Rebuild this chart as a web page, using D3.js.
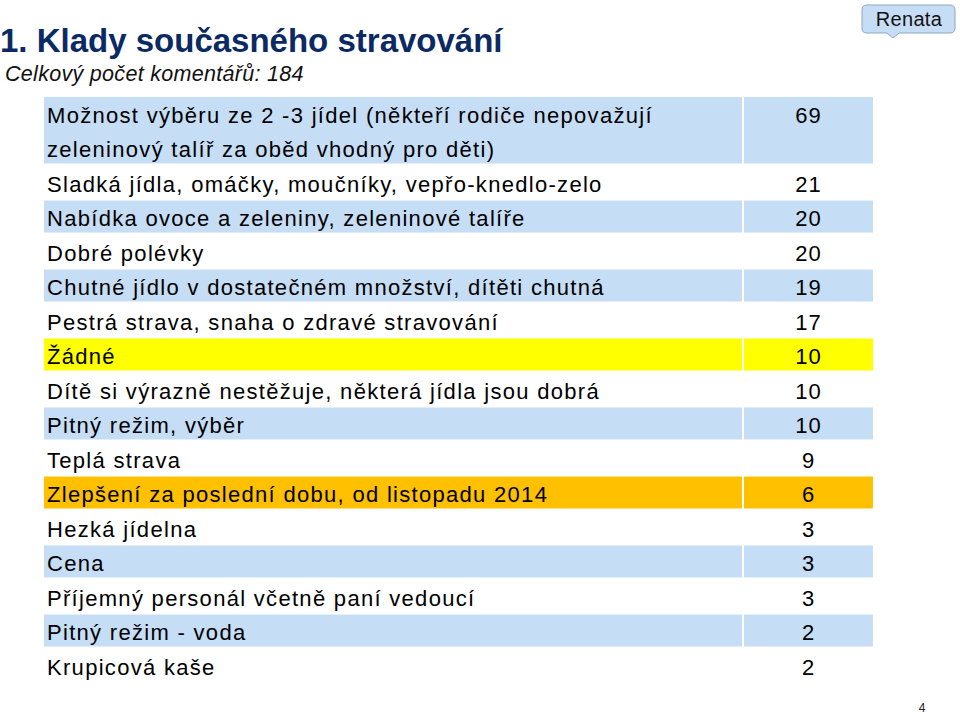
<!DOCTYPE html>
<html><head><meta charset="utf-8">
<script src="https://cdn.jsdelivr.net/npm/d3@7"></script>
<style>body{margin:0;background:#fff}svg{display:block}text{font-family:"Liberation Sans",Arial,Helvetica,sans-serif}</style>
</head><body>
<svg id="c" width="960" height="714"></svg>
<script>
const labels = [
  ["Možnost výběru ze 2 -3 jídel (někteří rodiče nepovažují","zeleninový talíř za oběd vhodný pro děti)"],
  ["Sladká jídla, omáčky, moučníky, vepřo-knedlo-zelo"],
  ["Nabídka ovoce a zeleniny, zeleninové talíře"],
  ["Dobré polévky"],
  ["Chutné jídlo v dostatečném množství, dítěti chutná"],
  ["Pestrá strava, snaha o zdravé stravování"],
  ["Žádné"],
  ["Dítě si výrazně nestěžuje, některá jídla jsou dobrá"],
  ["Pitný režim, výběr"],
  ["Teplá strava"],
  ["Zlepšení za poslední dobu, od listopadu 2014"],
  ["Hezká jídelna"],
  ["Cena"],
  ["Příjemný personál včetně paní vedoucí"],
  ["Pitný režim - voda"],
  ["Krupicová kaše"]
];
const values = [69,21,20,20,19,17,10,10,10,9,6,3,3,3,2,2];
const highlight = ["blue","none","blue","none","blue","none","yellow","none","blue","none","orange","none","blue","none","blue","none"];
const title = "1. Klady současného stravování";
const subtitle = "Celkový počet komentářů: 184";
const fills = {blue:"#c6ddf6", yellow:"#ffff00", orange:"#ffc000", none:"none"};

const svg = d3.select("#c");
svg.append("text").attr("x",0).attr("y",52).attr("font-size",33).attr("font-weight","bold")
  .attr("fill","#0b2a63").text(title);
svg.append("text").attr("x",5).attr("y",81).attr("font-size",21.5).attr("font-style","italic")
  .attr("letter-spacing",0.3).attr("fill","#111").text(subtitle);

// rows: cumulative units
let cum = 0;
const rows = labels.map((l,i)=>{ const r={lines:l, v:values[i], c:highlight[i], start:cum, n:l.length}; cum+=l.length; return r;});
const y = d3.scaleLinear().domain([0,cum]).range([97,683.5]);
const x = d3.scaleLinear().domain([0,1]).range([44,873]);
const divX = 743;

const g = svg.append("g");
rows.forEach(r=>{
  if (r.c!=="none") {
    g.append("rect").attr("x",x(0)).attr("y",y(r.start)).attr("width",divX-1-x(0))
      .attr("height",y(r.start+r.n)-y(r.start)-2.5).attr("fill",fills[r.c]);
    g.append("rect").attr("x",divX+1).attr("y",y(r.start)).attr("width",x(1)-divX-1)
      .attr("height",y(r.start+r.n)-y(r.start)-2.5).attr("fill",fills[r.c]);
  }
  r.lines.forEach((t,j)=>{
    g.append("text").attr("x",47).attr("y",y(r.start+j)+25.5).attr("font-size",22)
      .attr("letter-spacing",1.3).attr("fill","#000").text(t);
  });
  g.append("text").attr("x",(divX+x(1))/2+0.6).attr("y",y(r.start)+25.5).attr("font-size",22)
    .attr("letter-spacing",1.2).attr("text-anchor","middle").attr("fill","#000").text(r.v);
});

// Renata callout
const cg = svg.append("g");
cg.append("path").attr("d","M867,5 H950 Q955,5 955,10 V28 Q955,33 950,33 H899 L893,38 L887,33 H867 Q862,33 862,28 V10 Q862,5 867,5 Z")
  .attr("fill","#c6ddf6").attr("stroke","#8fa6bf").attr("stroke-width",1);
cg.append("text").attr("x",909).attr("y",26).attr("font-size",20).attr("text-anchor","middle")
  .attr("letter-spacing",0.3).attr("fill","#111").text("Renata");

svg.append("text").attr("x",922).attr("y",712).attr("font-size",12).attr("text-anchor","middle").attr("fill","#222").text("4");
</script>
</body></html>
